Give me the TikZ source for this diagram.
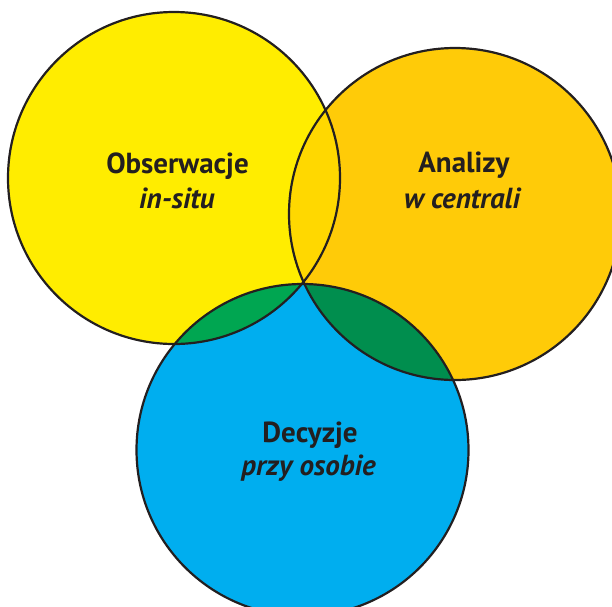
\documentclass[tikz,border=0pt]{standalone}
\usepackage{fontspec}
\setmainfont{PT Sans}
\definecolor{ringline}{RGB}{35,31,32}
\definecolor{ink}{RGB}{35,31,32}
\definecolor{obsfill}{RGB}{255,237,0}
\definecolor{anafill}{RGB}{255,203,8}
\definecolor{decfill}{RGB}{0,174,239}
\definecolor{obsana}{RGB}{255,216,0}
\definecolor{obsdec}{RGB}{0,166,81}
\definecolor{anadec}{RGB}{0,142,78}
\begin{document}
\begin{tikzpicture}[x=1pt,y=-1pt,
  ring/.style={draw=ringline,line width=2.2pt},
  headline/.style={text=ink,anchor=base,font=\fontsize{29}{34}\selectfont\bfseries},
  subline/.style={text=ink,anchor=base,font=\fontsize{29}{34}\selectfont\bfseries\itshape}]
\useasboundingbox (0,0) rectangle (612,606);
\coordinate (cobs) at (174,178);
\coordinate (cana) at (455,214);
\coordinate (cdec) at (302.5,450);
\begin{scope}
  \clip (0,0) rectangle (612,606);
  % circle fills
  \fill[obsfill] (cobs) circle (166pt);
  \fill[anafill] (cana) circle (166pt);
  \fill[decfill] (cdec) circle (166pt);
  % pairwise overlaps
  \begin{scope}
    \clip (cobs) circle (166pt);
    \fill[obsana] (cana) circle (166pt);
    \fill[obsdec] (cdec) circle (166pt);
  \end{scope}
  \begin{scope}
    \clip (cana) circle (166pt);
    \fill[anadec] (cdec) circle (166pt);
  \end{scope}
  % outlines
  \draw[ring] (cobs) circle (166pt);
  \draw[ring] (cana) circle (166pt);
  \draw[ring] (cdec) circle (166pt);
\end{scope}
% labels
\node[headline] (obs1) at (177.5,173) {Obserwacje};
\node[subline]  (obs2) at (177,208) {in-situ};
\node[headline] (ana1) at (464,172) {Analizy};
\node[subline]  (ana2) at (462,208) {w centrali};
\node[headline] (dec1) at (310,442) {Decyzje};
\node[subline]  (dec2) at (308.5,475) {przy osobie};
\end{tikzpicture}
\end{document}
